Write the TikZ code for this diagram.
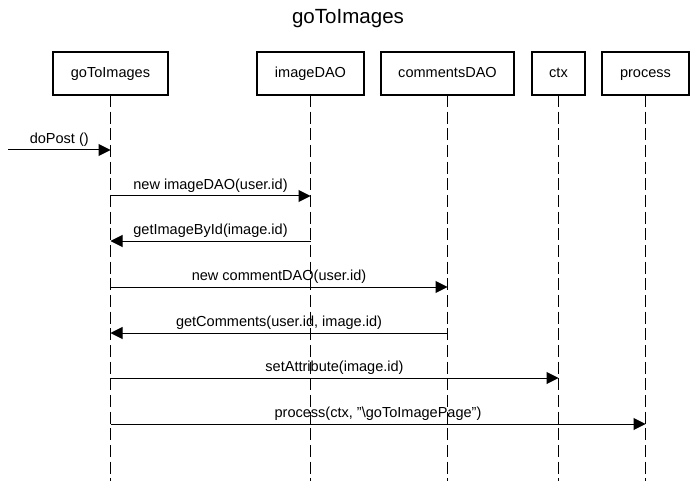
\documentclass[tikz,border=0pt]{standalone}
\usepackage{fontspec}
\setmainfont{Liberation Sans}
\usetikzlibrary{positioning,arrows.meta}

\tikzset{
	obj/.style={draw=black, line width=1.6pt, minimum height=32.25pt, inner sep=0pt, outer sep=0pt, text height=1.6ex, text depth=0.4ex, font=\fontsize{10.9}{13}\selectfont},
	lifeline/.style={draw=black, line width=0.75pt, dash pattern=on 9pt off 3.5pt},
	msg/.style={draw=black, line width=0.75pt, -{Triangle[length=9pt,width=9pt]}},
	lbl/.style={above=1pt, inner sep=1pt, font=\fontsize{10.9}{13}\selectfont},
	heading/.style={font=\fontsize{15.4}{18}\selectfont}
}

\begin{document}
\begin{tikzpicture}[x=0.75pt, y=-0.75pt]
	\useasboundingbox (0,0) rectangle (696,481);
	\node[heading] (ttl) at (348,19) {goToImages};
	\node[obj, minimum width=86.25pt] (gti) at (110.5,73.5) {goToImages};
	\node[obj, minimum width=80.25pt, right=66.75pt of gti] (idao) {imageDAO};
	\node[obj, minimum width=99.75pt, right=12.75pt of idao] (cdao) {commentsDAO};
	\node[obj, minimum width=39.75pt, right=13.5pt of cdao] (ctx) {ctx};
	\node[obj, minimum width=65.25pt, right=12.75pt of ctx] (proc) {process};
	\coordinate (bot) at (0,481);
	\draw[lifeline] (gti.south) -- (gti |- bot);
	\draw[lifeline] (idao.south) -- (idao |- bot);
	\draw[lifeline] (cdao.south) -- (cdao |- bot);
	\draw[lifeline] (ctx.south) -- (ctx |- bot);
	\draw[lifeline] (proc.south) -- (proc |- bot);
	\coordinate (r1) at (0,150);
	\coordinate (r2) at (0,196);
	\coordinate (r3) at (0,241);
	\coordinate (r4) at (0,287);
	\coordinate (r5) at (0,333);
	\coordinate (r6) at (0,378);
	\coordinate (r7) at (0,424);
	\coordinate (src) at (8,150);
	\draw[msg] (src) -- node[lbl]{doPost ()} (gti |- r1);
	\draw[msg] (gti |- r2) -- node[lbl]{new imageDAO(user.id)} (idao |- r2);
	\draw[msg] (idao |- r3) -- node[lbl]{getImageById(image.id)} (gti |- r3);
	\draw[msg] (gti |- r4) -- node[lbl]{new commentDAO(user.id)} (cdao |- r4);
	\draw[msg] (cdao |- r5) -- node[lbl]{getComments(user.id, image.id)} (gti |- r5);
	\draw[msg] (gti |- r6) -- node[lbl]{setAttribute(image.id)} (ctx |- r6);
	\draw[msg] (gti |- r7) -- node[lbl]{process(ctx, "\textbackslash goToImagePage")} (proc |- r7);
\end{tikzpicture}
\end{document}
